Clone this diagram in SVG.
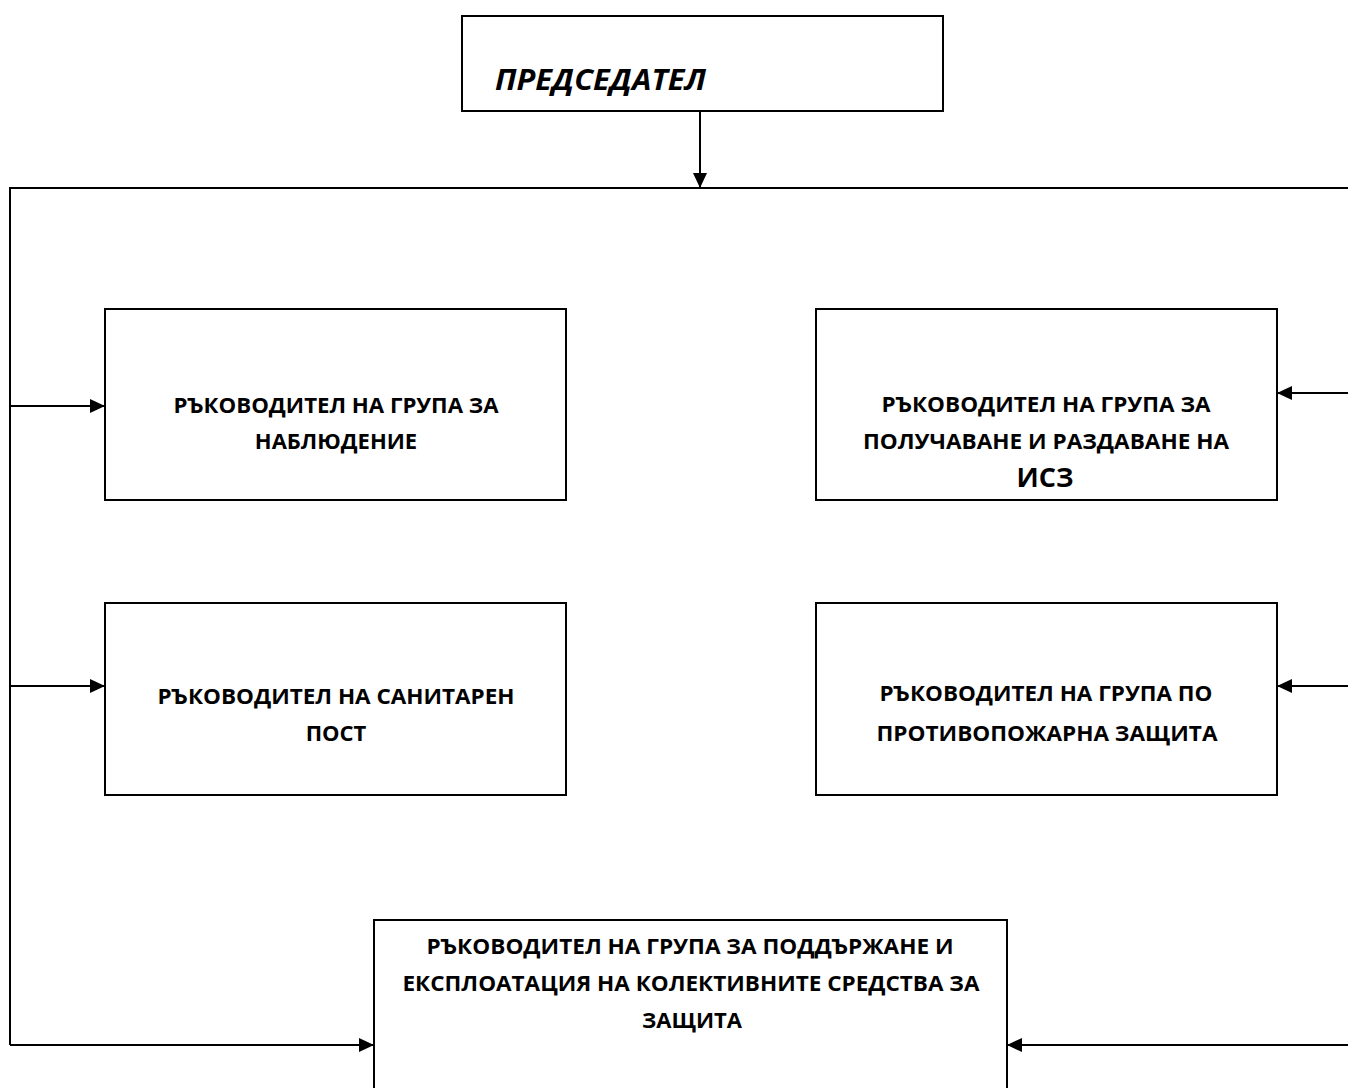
<svg xmlns="http://www.w3.org/2000/svg" width="1348" height="1088" viewBox="0 0 1348 1088">
<style>
.box{fill:#fff;stroke:#000;stroke-width:2}
.t{font-family:"Open Sans","Liberation Sans",sans-serif;font-weight:700;font-size:22px;fill:#000;text-anchor:middle}
.c{fill:none;stroke:#000;stroke-width:2}
</style>
<defs>
<marker id="ah" viewBox="0 0 15 14" refX="15" refY="7" markerWidth="15" markerHeight="14" markerUnits="userSpaceOnUse" orient="auto">
<path d="M0,0 L15,7 L0,14 Z" fill="#000"/>
</marker>
</defs>
<rect width="1348" height="1088" fill="#fff"/>
<g id="connectors">
<line class="c" x1="700" y1="111" x2="700" y2="188" marker-end="url(#ah)"/>
<polyline class="c" points="1348,188 10,188 10,1045"/>
<line class="c" x1="10" y1="406" x2="105" y2="406" marker-end="url(#ah)"/>
<line class="c" x1="10" y1="686" x2="105" y2="686" marker-end="url(#ah)"/>
<line class="c" x1="10" y1="1045" x2="374" y2="1045" marker-end="url(#ah)"/>
<line class="c" x1="1348" y1="393" x2="1277" y2="393" marker-end="url(#ah)"/>
<line class="c" x1="1348" y1="686" x2="1277" y2="686" marker-end="url(#ah)"/>
<line class="c" x1="1348" y1="1045" x2="1007" y2="1045" marker-end="url(#ah)"/>
</g>
<g id="chair">
<rect class="box" x="462" y="16" width="481" height="95"/>
<text class="t" x="495" y="90" style="font-size:28px;font-style:italic;text-anchor:start" textLength="211" lengthAdjust="spacingAndGlyphs">ПРЕДСЕДАТЕЛ</text>
</g>
<g id="observation">
<rect class="box" x="105" y="309" width="461" height="191"/>
<text class="t" x="336" y="413" textLength="325" lengthAdjust="spacingAndGlyphs">РЪКОВОДИТЕЛ НА ГРУПА ЗА</text>
<text class="t" x="336" y="449">НАБЛЮДЕНИЕ</text>
</g>
<g id="isz">
<rect class="box" x="816" y="309" width="461" height="191"/>
<text class="t" x="1046" y="412" textLength="329" lengthAdjust="spacingAndGlyphs">РЪКОВОДИТЕЛ НА ГРУПА ЗА</text>
<text class="t" x="1046" y="449" textLength="366" lengthAdjust="spacingAndGlyphs">ПОЛУЧАВАНЕ И РАЗДАВАНЕ НА</text>
<text class="t" x="1045" y="487" style="font-size:27px">ИСЗ</text>
</g>
<g id="sanitary">
<rect class="box" x="105" y="603" width="461" height="192"/>
<text class="t" x="336" y="704" textLength="357" lengthAdjust="spacingAndGlyphs">РЪКОВОДИТЕЛ НА САНИТАРЕН</text>
<text class="t" x="336" y="741">ПОСТ</text>
</g>
<g id="fire">
<rect class="box" x="816" y="603" width="461" height="192"/>
<text class="t" x="1046" y="701" textLength="333" lengthAdjust="spacingAndGlyphs">РЪКОВОДИТЕЛ НА ГРУПА ПО</text>
<text class="t" x="1047" y="741" textLength="341" lengthAdjust="spacingAndGlyphs">ПРОТИВОПОЖАРНА ЗАЩИТА</text>
</g>
<g id="collective">
<rect class="box" x="374" y="920" width="633" height="180"/>
<text class="t" x="690" y="954" textLength="527" lengthAdjust="spacingAndGlyphs">РЪКОВОДИТЕЛ НА ГРУПА ЗА ПОДДЪРЖАНЕ И</text>
<text class="t" x="691" y="991" textLength="577" lengthAdjust="spacingAndGlyphs">ЕКСПЛОАТАЦИЯ НА КОЛЕКТИВНИТЕ СРЕДСТВА ЗА</text>
<text class="t" x="692" y="1028">ЗАЩИТА</text>
</g>
</svg>
